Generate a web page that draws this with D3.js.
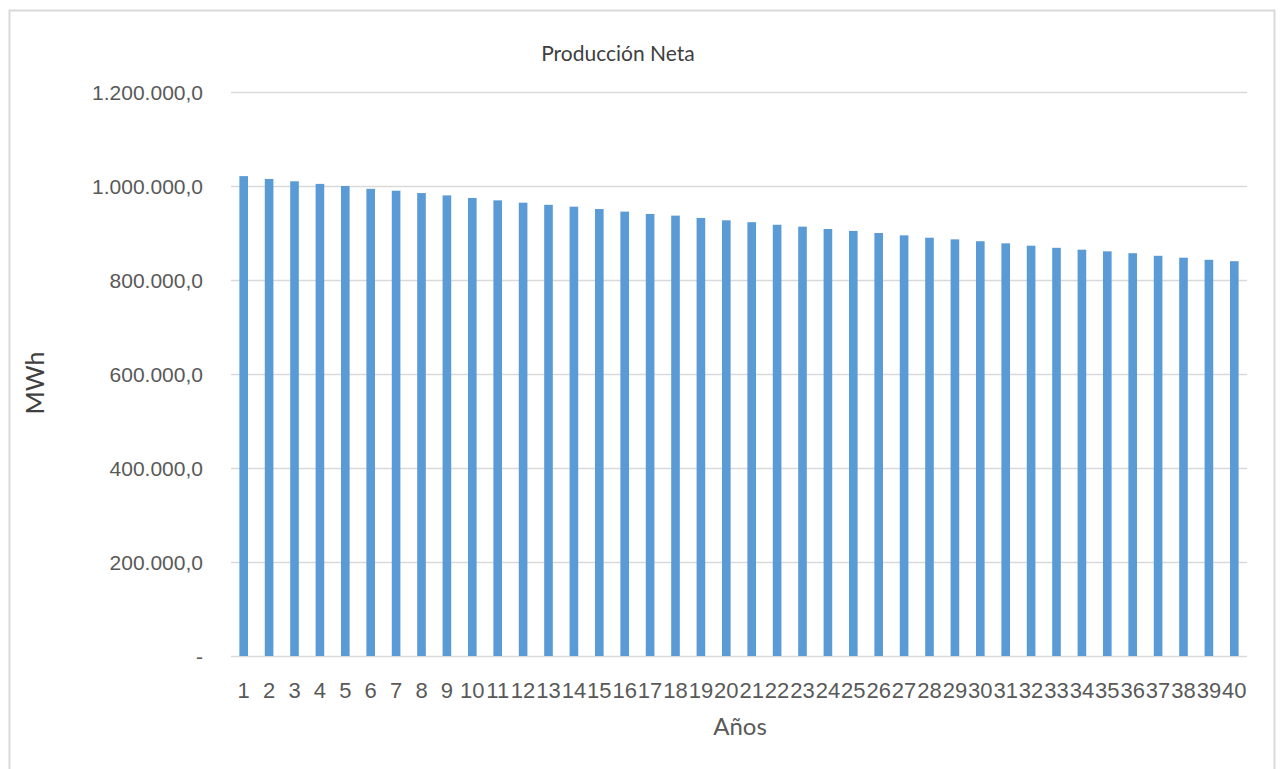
<!DOCTYPE html>
<html>
<head>
<meta charset="utf-8">
<script src="https://cdn.jsdelivr.net/npm/d3@7/dist/d3.min.js"></script>
<style>
  html, body { margin: 0; padding: 0; background: #fff; }
  svg { display: block; font-family: Lato, "Open Sans", sans-serif; }
</style>
</head>
<body>
<svg id="chart" width="1280" height="769"></svg>
<script>
// Annual net production, years 1–40 (MWh)
const years = d3.range(1, 41).map(String);
const production = [
  1021000, 1015000, 1010000, 1004500, 1000000, 994000, 990000, 985000, 980000, 974500,
  969500, 964500, 960000, 956000, 951000, 945500, 940500, 937000, 932000, 927000,
  923000, 917500, 913500, 908500, 904500, 900000, 895000, 890000, 886500, 882500,
  878000, 873000, 868500, 864500, 861000, 857000, 851500, 847500, 843000, 840000
];
const yTicks = [0, 200000, 400000, 600000, 800000, 1000000, 1200000];

const title = "Producción Neta";
const yTitle = "MWh";
const xTitle = "Años";

const svg = d3.select("#chart");
const plot = { left: 231, right: 1247, top: 92, bottom: 656 };

// chart frame
svg.append("rect")
  .attr("x", 9.5).attr("y", 10.5)
  .attr("width", 1265).attr("height", 780)
  .attr("fill", "#fff").attr("stroke", "#d9d9d9").attr("stroke-width", 2);

const x = d3.scaleBand()
  .domain(years)
  .range([plot.left, plot.right])
  .paddingInner(0.66)
  .paddingOuter(0.33);

const y = d3.scaleLinear()
  .domain([0, 1200000])
  .range([plot.bottom, plot.top]);

// number format: 1.200.000,0 and "-" for zero
const locale = d3.formatLocale({ decimal: ",", thousands: ".", grouping: [3], currency: ["", ""] });
const fmt = locale.format(",.1f");
const tickFmt = d => d === 0 ? "-" : fmt(d);

// gridlines
svg.append("g")
  .selectAll("line")
  .data(yTicks)
  .join("line")
  .attr("x1", plot.left).attr("x2", plot.right)
  .attr("y1", d => Math.round(y(d)) + 0.5).attr("y2", d => Math.round(y(d)) + 0.5)
  .attr("stroke", "#d9d9d9").attr("stroke-width", 1.5);

// y axis labels
const yAxis = svg.append("g")
  .attr("transform", `translate(${plot.left - 28},0)`)
  .call(d3.axisLeft(y).tickValues(yTicks).tickFormat(tickFmt).tickSize(0).tickPadding(0));
yAxis.select(".domain").remove();
yAxis.selectAll("text")
  .attr("fill", "#595959")
  .style("font-size", "21px")
  .attr("dy", "0.35em");

// bars
svg.append("g")
  .selectAll("rect")
  .data(production)
  .join("rect")
  .attr("x", (d, i) => x(years[i]))
  .attr("width", x.bandwidth())
  .attr("y", d => y(d))
  .attr("height", d => y(0) - y(d))
  .attr("fill", "#5b9bd5");

// x axis labels
const xAxis = svg.append("g")
  .attr("transform", `translate(0,${plot.bottom})`)
  .call(d3.axisBottom(x).tickSize(0).tickPadding(0));
xAxis.select(".domain").remove();
xAxis.selectAll("text")
  .attr("fill", "#595959")
  .style("font-size", "22px")
  .attr("y", 42)
  .attr("dy", null);

// titles
svg.append("text")
  .attr("x", 618).attr("y", 61)
  .attr("text-anchor", "middle")
  .attr("fill", "#404040")
  .style("font-size", "21px")
  .text(title);

svg.append("text")
  .attr("transform", "translate(44,383) rotate(-90)")
  .attr("text-anchor", "middle")
  .attr("fill", "#404040")
  .style("font-size", "25px")
  .text(yTitle);

svg.append("text")
  .attr("x", 740).attr("y", 735)
  .attr("text-anchor", "middle")
  .attr("fill", "#595959")
  .style("font-size", "24px")
  .text(xTitle);
</script>
</body>
</html>
